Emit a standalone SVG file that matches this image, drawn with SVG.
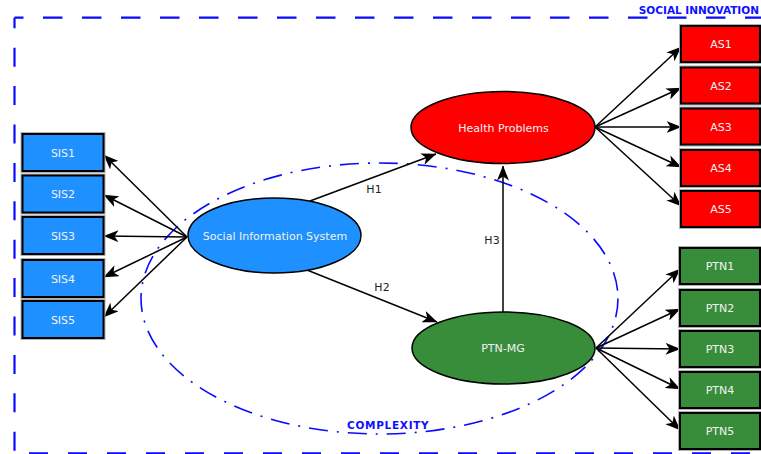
<svg xmlns="http://www.w3.org/2000/svg" width="761" height="454" viewBox="0 0 761 454">
<defs>
<marker id="arr" markerUnits="userSpaceOnUse" markerWidth="15" markerHeight="12" viewBox="0 0 15 12" refX="14.5" refY="6" orient="auto">
<path d="M0,0 L15,6 L0,12 L4,6 z" fill="#000"/>
</marker>
<style>
.box{stroke:#000;stroke-width:2}
.halo{fill:none;stroke:#b0b0b0;stroke-width:4}
.sis{fill:#1E90FF}
.as{fill:#FF0000}
.ptn{fill:#378D3A}
.lbl{font-family:"DejaVu Sans",sans-serif;font-size:11px;fill:#f2f2f2;text-anchor:middle}
.h{font-family:"DejaVu Sans",sans-serif;font-size:11px;fill:#222;text-anchor:middle}
.grp{font-family:"DejaVu Sans",sans-serif;font-size:10.5px;font-weight:bold;fill:#1010ff;letter-spacing:0.7px}
.ell{stroke:#000;stroke-width:1.5}
.con line{stroke:#000;stroke-width:1.5;marker-end:url(#arr)}
.border{stroke:#0a0aff;stroke-width:2.2;fill:none}
</style>
</defs>
<rect width="761" height="454" fill="#fff"/>

<g id="social-innovation">
<line class="border" x1="14.5" y1="17.7" x2="770" y2="17.7" stroke-dasharray="19.5 19.5" stroke-dashoffset="10.5"/>
<line class="border" x1="14.5" y1="17.7" x2="14.5" y2="454" stroke-dasharray="19 19.4" stroke-dashoffset="8.4"/>
<line class="border" x1="29" y1="453.3" x2="770" y2="453.3" stroke-dasharray="19 20"/>
<text class="grp" x="759" y="14" text-anchor="end" style="letter-spacing:0">SOCIAL INNOVATION</text>
</g>

<g id="complexity">
<ellipse cx="379.5" cy="298.5" rx="238.5" ry="135.5" fill="none" stroke="#0a0aff" stroke-width="1.6" stroke-dasharray="19 9 2 9"/>
<text class="grp" x="347" y="429.3">COMPLEXITY</text>
</g>

<g id="connectors" class="con">
<line x1="187" y1="237" x2="104" y2="155"/>
<line x1="187" y1="237" x2="104" y2="195"/>
<line x1="187" y1="237" x2="104" y2="236"/>
<line x1="187" y1="237" x2="104" y2="277"/>
<line x1="187" y1="237" x2="104" y2="317"/>
<line x1="595" y1="127" x2="681" y2="47"/>
<line x1="595" y1="127" x2="681" y2="88"/>
<line x1="595" y1="127" x2="681" y2="127"/>
<line x1="595" y1="127" x2="681" y2="167"/>
<line x1="595" y1="127" x2="681" y2="206"/>
<line x1="596" y1="348" x2="680" y2="269"/>
<line x1="596" y1="348" x2="680" y2="309"/>
<line x1="596" y1="348" x2="680" y2="349"/>
<line x1="596" y1="348" x2="680" y2="389"/>
<line x1="596" y1="348" x2="680" y2="430"/>
<line x1="310" y1="201" x2="436" y2="154"/>
<line x1="307" y1="270" x2="437" y2="322"/>
<line x1="503" y1="312" x2="503" y2="166"/>
<text class="h" x="374" y="193">H1</text>
<text class="h" x="382" y="291">H2</text>
<text class="h" x="492" y="244">H3</text>
</g>

<g id="sis-construct">
<ellipse class="ell" cx="274.5" cy="235.5" rx="86.5" ry="37.5" fill="#1E90FF"/>
<text class="lbl" x="275" y="239.5">Social Information System</text>
</g>
<g id="health-problems">
<ellipse class="ell" cx="503" cy="127.5" rx="92" ry="36" fill="#FF0000"/>
<text class="lbl" x="503.5" y="132">Health Problems</text>
</g>
<g id="ptn-mg">
<ellipse class="ell" cx="503.5" cy="348" rx="91.5" ry="36" fill="#378D3A"/>
<text class="lbl" x="503" y="352">PTN-MG</text>
</g>

<g id="SIS1"><rect class="halo" x="22.5" y="134" width="81" height="37"/><rect class="box sis" x="22.5" y="134" width="81" height="37"/><text class="lbl" x="63" y="156.5">SIS1</text></g>
<g id="SIS2"><rect class="halo" x="22.5" y="175.5" width="81" height="37"/><rect class="box sis" x="22.5" y="175.5" width="81" height="37"/><text class="lbl" x="63" y="198">SIS2</text></g>
<g id="SIS3"><rect class="halo" x="22.5" y="217" width="81" height="37"/><rect class="box sis" x="22.5" y="217" width="81" height="37"/><text class="lbl" x="63" y="239.5">SIS3</text></g>
<g id="SIS4"><rect class="halo" x="22.5" y="260" width="81" height="37"/><rect class="box sis" x="22.5" y="260" width="81" height="37"/><text class="lbl" x="63" y="282.5">SIS4</text></g>
<g id="SIS5"><rect class="halo" x="22.5" y="301" width="81" height="37"/><rect class="box sis" x="22.5" y="301" width="81" height="37"/><text class="lbl" x="63" y="323.5">SIS5</text></g>

<g id="AS1"><rect class="halo" x="681" y="26" width="79" height="36"/><rect class="box as" x="681" y="26" width="79" height="36"/><text class="lbl" x="721" y="48">AS1</text></g>
<g id="AS2"><rect class="halo" x="681" y="67.5" width="79" height="36"/><rect class="box as" x="681" y="67.5" width="79" height="36"/><text class="lbl" x="721" y="89.5">AS2</text></g>
<g id="AS3"><rect class="halo" x="681" y="108.5" width="79" height="36"/><rect class="box as" x="681" y="108.5" width="79" height="36"/><text class="lbl" x="721" y="130.5">AS3</text></g>
<g id="AS4"><rect class="halo" x="681" y="150" width="79" height="36"/><rect class="box as" x="681" y="150" width="79" height="36"/><text class="lbl" x="721" y="172">AS4</text></g>
<g id="AS5"><rect class="halo" x="681" y="191" width="79" height="36"/><rect class="box as" x="681" y="191" width="79" height="36"/><text class="lbl" x="721" y="213">AS5</text></g>

<g id="PTN1"><rect class="halo" x="680" y="248" width="80" height="36"/><rect class="box ptn" x="680" y="248" width="80" height="36"/><text class="lbl" x="720" y="270">PTN1</text></g>
<g id="PTN2"><rect class="halo" x="680" y="290" width="80" height="36"/><rect class="box ptn" x="680" y="290" width="80" height="36"/><text class="lbl" x="720" y="312">PTN2</text></g>
<g id="PTN3"><rect class="halo" x="680" y="331" width="80" height="36"/><rect class="box ptn" x="680" y="331" width="80" height="36"/><text class="lbl" x="720" y="353">PTN3</text></g>
<g id="PTN4"><rect class="halo" x="680" y="372" width="80" height="36"/><rect class="box ptn" x="680" y="372" width="80" height="36"/><text class="lbl" x="720" y="394">PTN4</text></g>
<g id="PTN5"><rect class="halo" x="680" y="413" width="80" height="36"/><rect class="box ptn" x="680" y="413" width="80" height="36"/><text class="lbl" x="720" y="435">PTN5</text></g>
</svg>
